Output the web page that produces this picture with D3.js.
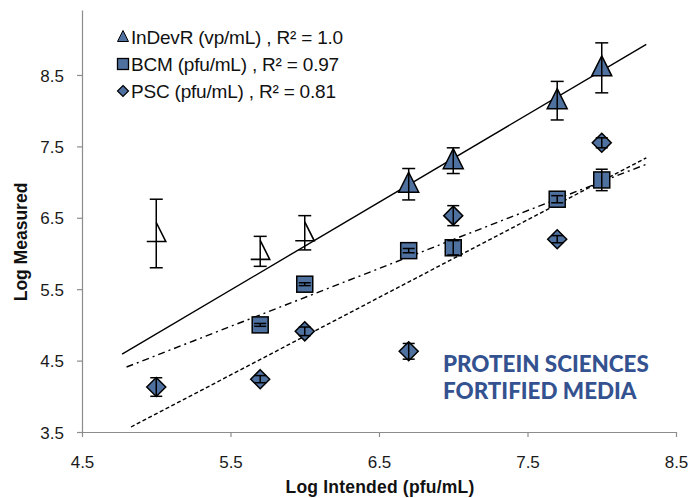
<!DOCTYPE html>
<html>
<head>
<meta charset="utf-8">
<script src="https://cdn.jsdelivr.net/npm/d3@7"></script>
<style>
  html, body { margin: 0; padding: 0; background: #fff; }
  svg { display: block; font-family: "Liberation Sans", Arial, sans-serif; }
</style>
</head>
<body>
<svg id="chart" width="688" height="498"></svg>
<script>
// ---- Data ----
const xValues = [5, 5.7, 6, 6.7, 7, 7.7, 8];
const indevrValues = [6.28, 6.03, 6.29, 6.97, 7.30, 8.14, 8.60];
const indevrErrors = [0.48, 0.21, 0.24, 0.22, 0.18, 0.27, 0.35];
const indevrHollow = [true, true, true, false, false, false, false];
const bcmX = [5.7, 6, 6.7, 7, 7.7, 8];
const bcmValues = [5.00, 5.57, 6.04, 6.08, 6.76, 7.03];
const bcmErrors = [0.02, 0.02, 0.03, 0.10, 0.05, 0.15];
const pscValues = [4.13, 4.24, 4.91, 4.63, 6.53, 6.20, 7.55];
const pscErrors = [0.13, 0.05, 0.06, 0.11, 0.14, 0.05, 0.07];
// trend lines: [x0, y0, x1, y1]
const indevrTrend = [4.77, 4.59, 8.3, 8.93];
const bcmTrend = [4.8, 4.41, 8.3, 7.25];
const pscTrend = [4.83, 3.57, 8.3, 7.34];
const xTicks = [4.5, 5.5, 6.5, 7.5, 8.5];
const yTicks = [3.5, 4.5, 5.5, 6.5, 7.5, 8.5];
const legendLabels = ["InDevR (vp/mL) , R\u00B2 = 1.0", "BCM (pfu/mL) , R\u00B2 = 0.97", "PSC (pfu/mL)  , R\u00B2 = 0.81"];
const annotation = ["PROTEIN SCIENCES", "FORTIFIED MEDIA"];
const xTitle = "Log Intended  (pfu/mL)";
const yTitle = "Log Measured";

// ---- Chart ----
const fill = "#4f71a0";
const svg = d3.select("#chart");
const x = d3.scaleLinear().domain([4.5, 8.5]).range([82, 676]);
const y = d3.scaleLinear().domain([3.5, 9.41]).range([432, 10]);

// axes
const xAxis = svg.append("g").attr("transform", `translate(0,${y(3.5)})`)
  .call(d3.axisBottom(x).tickValues(xTicks).tickFormat(d3.format(".1f")).tickSize(5).tickPadding(19).tickSizeOuter(0));
const yAxis = svg.append("g").attr("transform", `translate(${x(4.5)},0)`)
  .call(d3.axisLeft(y).tickValues(yTicks).tickFormat(d3.format(".1f")).tickSize(5).tickPadding(13).tickSizeOuter(0));
[xAxis, yAxis].forEach(g => {
  g.select(".domain").attr("stroke", "#8c8c8c").attr("stroke-width", 1.2);
  g.selectAll(".tick line").attr("stroke", "#8c8c8c").attr("stroke-width", 1.2);
  g.selectAll(".tick text").attr("font-size", 17).attr("fill", "#1a1a1a")
    .attr("font-family", "'Liberation Sans', Arial, sans-serif");
});
yAxis.selectAll(".tick text").attr("dy", "0.36em");

// axis titles
svg.append("text").attr("x", 380).attr("y", 493).attr("text-anchor", "middle")
  .attr("font-size", 17.5).attr("font-weight", "bold").attr("fill", "#111").attr("letter-spacing", 0.2).text(xTitle);
svg.append("text").attr("transform", `translate(27,242) rotate(-90)`).attr("text-anchor", "middle")
  .attr("font-size", 17.5).attr("font-weight", "bold").attr("fill", "#111").text(yTitle);

// trend lines
function trend(t, dash) {
  svg.append("line").attr("x1", x(t[0])).attr("y1", y(t[1])).attr("x2", x(t[2])).attr("y2", y(t[3]))
    .attr("stroke", "#000").attr("stroke-width", 1.4).attr("stroke-dasharray", dash);
}
trend(indevrTrend, null);
trend(bcmTrend, "7,4,2,4");
trend(pscTrend, "4,2.5");

// error bar helper
function errBar(cx, v, e, cap) {
  const g = svg.append("g").attr("stroke", "#000").attr("stroke-width", 1.5);
  g.append("line").attr("x1", cx).attr("x2", cx).attr("y1", y(v + e)).attr("y2", y(v - e));
  g.append("line").attr("x1", cx - cap).attr("x2", cx + cap).attr("y1", y(v + e)).attr("y2", y(v + e));
  g.append("line").attr("x1", cx - cap).attr("x2", cx + cap).attr("y1", y(v - e)).attr("y2", y(v - e));
}

// PSC diamonds
xValues.forEach((xv, i) => {
  const cx = x(xv), cy = y(pscValues[i]), r = 9.5;
  svg.append("path").attr("d", `M${cx},${cy - r}L${cx + r},${cy}L${cx},${cy + r}L${cx - r},${cy}Z`)
    .attr("fill", fill).attr("stroke", "#000").attr("stroke-width", 1.5);
  errBar(cx, pscValues[i], pscErrors[i], 6);
});

// BCM squares
bcmX.forEach((xv, i) => {
  const cx = x(xv), cy = y(bcmValues[i]), h = 8;
  svg.append("rect").attr("x", cx - h).attr("y", cy - h).attr("width", 2 * h).attr("height", 2 * h)
    .attr("fill", fill).attr("stroke", "#000").attr("stroke-width", 1.5);
  errBar(cx, bcmValues[i], bcmErrors[i], 6);
});

// InDevR triangles
xValues.forEach((xv, i) => {
  const cx = x(xv), cy = y(indevrValues[i]);
  if (indevrHollow[i]) {
    svg.append("path").attr("d", `M${cx},${cy - 11}L${cx + 9.5},${cy + 8}L${cx - 9.5},${cy + 8}`)
      .attr("fill", "none").attr("stroke", "#000").attr("stroke-width", 1.6);
  } else {
    svg.append("path").attr("d", `M${cx},${cy - 12}L${cx + 10},${cy + 8}L${cx - 10},${cy + 8}Z`)
      .attr("fill", fill).attr("stroke", "#000").attr("stroke-width", 1.5);
  }
  errBar(cx, indevrValues[i], indevrErrors[i], 6.5);
});

// legend
const legY = [37, 64, 91];
const lg = svg.append("g");
legendLabels.forEach((lab, i) => {
  const cx = 123, cy = legY[i];
  if (i === 0) lg.append("path").attr("d", `M${cx},${cy - 6.5}L${cx + 5.5},${cy + 4.5}L${cx - 5.5},${cy + 4.5}Z`).attr("fill", fill).attr("stroke", "#000").attr("stroke-width", 1);
  if (i === 1) lg.append("rect").attr("x", cx - 5.5).attr("y", cy - 5.5).attr("width", 11).attr("height", 11).attr("fill", fill).attr("stroke", "#000").attr("stroke-width", 1.3);
  if (i === 2) lg.append("path").attr("d", `M${cx},${cy - 5.5}L${cx + 5.5},${cy}L${cx},${cy + 5.5}L${cx - 5.5},${cy}Z`).attr("fill", fill).attr("stroke", "#000").attr("stroke-width", 1.2);
  lg.append("text").attr("x", 131).attr("y", cy).attr("dy", "0.36em").attr("font-size", 19)
    .attr("fill", "#111").attr("letter-spacing", -0.2).text(lab);
});

// annotation
annotation.forEach((t, i) => {
  svg.append("text").attr("x", 443).attr("y", 372 + i * 27).attr("font-size", 22.4)
    .attr("font-weight", 900).attr("fill", "#34528f").attr("letter-spacing", 0)
    .attr("font-family", "Lato, 'Open Sans', sans-serif").text(t);
});
</script>
</body>
</html>
